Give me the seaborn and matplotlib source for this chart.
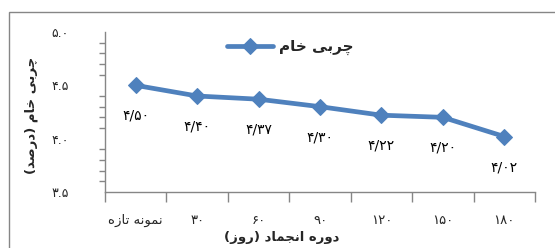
import matplotlib
matplotlib.use("Agg")
import matplotlib.pyplot as plt
import seaborn as sns
import pandas as pd
from matplotlib.patches import Rectangle
from matplotlib.ticker import FixedLocator, FuncFormatter

# ---- data ----
categories = ["نمونه تازه", "۳۰", "۶۰", "۹۰", "۱۲۰", "۱۵۰", "۱۸۰"]
fat_values = [4.50, 4.40, 4.37, 4.30, 4.22, 4.20, 4.02]
series_name = "چربی خام"
y_label = "چربی خام (درصد)"
x_label = "دوره انجماد (روز)"
y_ticks = [3.5, 4.0, 4.5, 5.0]

# ---- minimal Persian shaping (matplotlib has no complex text layout) ----
FORMS = {  # isolated, final, initial, medial
    'ا': ('\uFE8D', '\uFE8E', None, None),
    'ب': ('\uFE8F', '\uFE90', '\uFE91', '\uFE92'),
    'ت': ('\uFE95', '\uFE96', '\uFE97', '\uFE98'),
    'ج': ('\uFE9D', '\uFE9E', '\uFE9F', '\uFEA0'),
    'چ': ('\uFB7A', '\uFB7B', '\uFB7C', '\uFB7D'),
    'خ': ('\uFEA5', '\uFEA6', '\uFEA7', '\uFEA8'),
    'د': ('\uFEA9', '\uFEAA', None, None),
    'ر': ('\uFEAD', '\uFEAE', None, None),
    'ز': ('\uFEAF', '\uFEB0', None, None),
    'ص': ('\uFEB9', '\uFEBA', '\uFEBB', '\uFEBC'),
    'م': ('\uFEE1', '\uFEE2', '\uFEE3', '\uFEE4'),
    'ن': ('\uFEE5', '\uFEE6', '\uFEE7', '\uFEE8'),
    'ه': ('\uFEE9', '\uFEEA', '\uFEEB', '\uFEEC'),
    'و': ('\uFEED', '\uFEEE', None, None),
    'ی': ('\uFBFC', '\uFBFD', '\uFBFE', '\uFBFF'),
}


def dual(c):
    return c in FORMS and FORMS[c][2] is not None


def shape(s):
    if not any(c in FORMS for c in s):
        return s
    out = []
    for i, c in enumerate(s):
        if c not in FORMS:
            out.append(c)
            continue
        prev = s[i - 1] if i > 0 else ''
        nxt = s[i + 1] if i + 1 < len(s) else ''
        jp = dual(prev)
        jn = dual(c) and nxt in FORMS
        f = FORMS[c]
        if jp and jn:
            out.append(f[3])
        elif jp:
            out.append(f[1])
        elif jn:
            out.append(f[2])
        else:
            out.append(f[0])
    vis = ''.join(reversed(out))
    return vis.translate(str.maketrans({'(': ')', ')': '('}))


FA_DIGITS = str.maketrans('0123456789', '۰۱۲۳۴۵۶۷۸۹')


def fa_num(v, nd, sep):
    return f"{v:.{nd}f}".replace('.', sep).translate(FA_DIGITS)


# ---- figure ----
sns.set_theme(style="white")
plt.rcParams['font.family'] = ['DejaVu Sans']

fig = plt.figure(figsize=(5.55, 2.48), dpi=100)
ax = fig.add_axes([105 / 555, 1 - 192 / 248, 430 / 555, 160 / 248])

# outer chart border (only top/left visible in the crop)
fig.patches.append(Rectangle((9 / 555, -0.2), 1.2, 1.2 - 12 / 248,
                             transform=fig.transFigure, fill=False,
                             edgecolor='#868686', linewidth=1.0))

shown_cats = [shape(c) for c in categories]
df = pd.DataFrame({"cat": shown_cats, "val": fat_values})
blue = '#4F81BD'
sns.lineplot(data=df, x="cat", y="val", ax=ax, color=blue, linewidth=3.4,
             marker='D', markersize=8.5, markeredgecolor=blue,
             label=shape(series_name), sort=False)

for i, v in enumerate(fat_values):
    ax.annotate(fa_num(v, 2, '/'), (i, v), xytext=(0, -22),
                textcoords='offset points', ha='center', va='center',
                fontsize=10, color='black')

ax.set_xlim(-0.5, len(categories) - 0.5)
ax.set_ylim(3.5, 5.0)
ax.set_yticks(y_ticks)
ax.yaxis.set_major_formatter(FuncFormatter(lambda v, p: fa_num(v, 1, '.')))
ax.yaxis.set_minor_locator(FixedLocator([3.5 + 0.1 * k for k in range(16)]))
ax.xaxis.set_minor_locator(FixedLocator([k - 0.5 for k in range(len(categories) + 1)]))

ax.tick_params(axis='y', which='major', direction='inout', length=6, width=1,
               color='#868686', labelsize=9, pad=23)
ax.tick_params(axis='y', which='minor', direction='out', length=4, width=1,
               color='#868686', left=True)
ax.tick_params(axis='x', which='major', length=0, labelsize=9.5, pad=16)
ax.tick_params(axis='x', which='minor', direction='out', length=7, width=1,
               color='#868686', bottom=True)

for side in ['top', 'right']:
    ax.spines[side].set_visible(False)
for side in ['left', 'bottom']:
    ax.spines[side].set_color('#868686')
    ax.spines[side].set_linewidth(1)

ax.set_xlabel(shape(x_label), fontsize=9.5, fontweight='bold')
ax.xaxis.set_label_coords((282 - 105) / 430, -(231 - 192) / 160)
ax.set_ylabel(shape(y_label), fontsize=9.5, fontweight='bold')
ax.yaxis.set_label_coords(-(105 - 38) / 430, (192 - 115) / 160)

leg = ax.legend(loc='center', bbox_to_anchor=(0.43, 0.905), frameon=False,
                prop={'size': 11, 'weight': 'bold'}, handlelength=3.0,
                handletextpad=0.4)

fig.savefig('out.png', dpi=100)
